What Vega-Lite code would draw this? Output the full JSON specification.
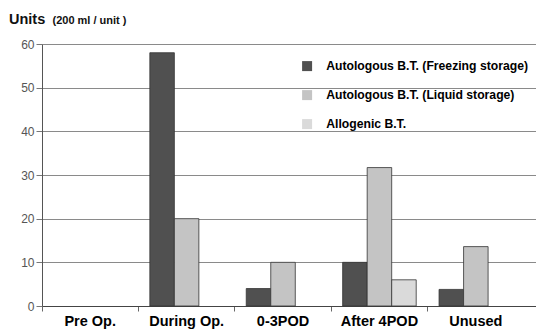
{
  "$schema": "https://vega.github.io/schema/vega-lite/v6.json",
  "width": 494,
  "height": 262,
  "autosize": {"type": "none"},
  "padding": {"left": 42, "top": 44, "right": 0, "bottom": 24},
  "background": "white",
  "title": {
    "text": "Units",
    "anchor": "start",
    "frame": "group",
    "dx": -33,
    "dy": 45,
    "offset": 21,
    "baseline": "alphabetic",
    "font": "Liberation Sans",
    "fontSize": 14.5,
    "fontWeight": "bold",
    "color": "#111"
  },
  "data": {
    "values": [
      {"stage": "During Op.", "type": "Autologous B.T. (Freezing storage)", "units": 58},
      {"stage": "During Op.", "type": "Autologous B.T. (Liquid storage)", "units": 20},
      {"stage": "0-3POD", "type": "Autologous B.T. (Freezing storage)", "units": 4},
      {"stage": "0-3POD", "type": "Autologous B.T. (Liquid storage)", "units": 10},
      {"stage": "After 4POD", "type": "Autologous B.T. (Freezing storage)", "units": 10},
      {"stage": "After 4POD", "type": "Autologous B.T. (Liquid storage)", "units": 31.7},
      {"stage": "After 4POD", "type": "Allogenic B.T.", "units": 6},
      {"stage": "Unused", "type": "Autologous B.T. (Freezing storage)", "units": 3.8},
      {"stage": "Unused", "type": "Autologous B.T. (Liquid storage)", "units": 13.6}
    ]
  },
  "mark": {"type": "bar", "stroke": "#333", "strokeWidth": 0.8},
  "encoding": {
    "x": {
      "field": "stage",
      "type": "nominal",
      "sort": null,
      "scale": {
        "domain": ["Pre Op.", "During Op.", "0-3POD", "After 4POD", "Unused"],
        "paddingInner": 0,
        "paddingOuter": 0.062,
        "align": 0
      },
      "axis": {
        "title": null,
        "labelAngle": 0,
        "bandPosition": 0,
        "tickSize": 5,
        "tickColor": "#666",
        "domainColor": "#444",
        "labelFont": "Liberation Sans",
        "labelFontSize": 14.5,
        "labelFontWeight": "bold",
        "labelColor": "#000",
        "labelPadding": 3,
        "grid": false
      }
    },
    "xOffset": {
      "field": "type",
      "type": "nominal",
      "scale": {
        "domain": ["Autologous B.T. (Freezing storage)", "Autologous B.T. (Liquid storage)", "Allogenic B.T."],
        "paddingInner": 0,
        "paddingOuter": 0.466
      }
    },
    "y": {
      "field": "units",
      "type": "quantitative",
      "scale": {"domain": [0, 60], "nice": false},
      "axis": {
        "values": [0, 10, 20, 30, 40, 50, 60],
        "title": "(200 ml / unit )",
        "titleAngle": 0,
        "titleX": 10,
        "titleY": -21,
        "titleAlign": "left",
        "titleBaseline": "alphabetic",
        "titleFont": "Liberation Sans",
        "titleFontSize": 11,
        "titleFontWeight": "bold",
        "titleColor": "#111",
        "labelFont": "Liberation Sans",
        "labelFontSize": 12,
        "labelColor": "#555",
        "labelPadding": 2,
        "tickSize": 6,
        "tickColor": "#777",
        "domainColor": "#555",
        "gridColor": "#8a8a8a",
        "gridWidth": 1
      }
    },
    "fill": {
      "field": "type",
      "type": "nominal",
      "scale": {
        "domain": ["Autologous B.T. (Freezing storage)", "Autologous B.T. (Liquid storage)", "Allogenic B.T."],
        "range": ["#505050", "#c4c4c4", "#dadada"]
      },
      "legend": {
        "title": null,
        "orient": "none",
        "legendX": 259,
        "legendY": 16,
        "symbolType": "square",
        "symbolSize": 100,
        "symbolStrokeColor": "#111",
        "symbolStrokeWidth": 1,
        "labelFont": "Liberation Sans",
        "labelFontSize": 12.2,
        "labelFontWeight": "bold",
        "labelColor": "#000",
        "labelLimit": 400,
        "labelOffset": 13,
        "rowPadding": 14,
        "encode": {
          "symbols": {
            "update": {
              "fill": {"signal": "datum.value === 'Autologous B.T. (Freezing storage)' ? '#000000' : scale('fill', datum.value)"}
            }
          }
        }
      }
    }
  },
  "config": {
    "view": {"stroke": null},
    "axis": {"titlePadding": 0}
  }
}
